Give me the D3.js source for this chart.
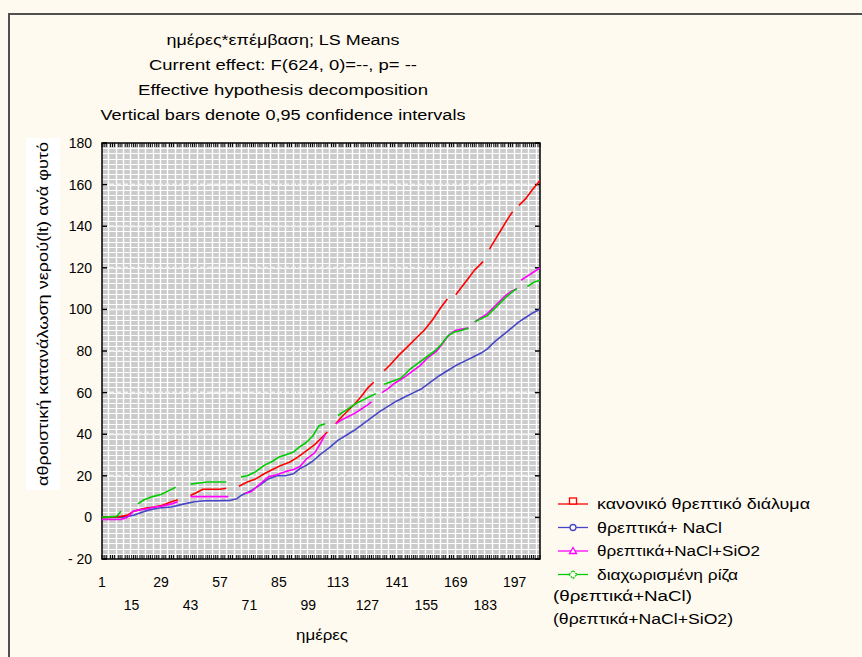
<!DOCTYPE html>
<html>
<head>
<meta charset="utf-8">
<script src="https://cdn.jsdelivr.net/npm/d3@7"></script>
<style>
  html, body { margin: 0; padding: 0; background: #fffaef; }
  svg { display: block; }
  text { font-family: "Liberation Sans", Arial, sans-serif; fill: #000; }
</style>
</head>
<body>
<svg id="chart" width="862" height="657"></svg>
<script>
// ---- chart data ----------------------------------------------------------
const titleLines = [
  "ημέρες*επέμβαση; LS Means",
  "Current effect: F(624, 0)=--, p= --",
  "Effective hypothesis decomposition",
  "Vertical bars denote 0,95 confidence intervals"
];
const titleWidths = [233, 268, 290, 365];
const yTickValues = [-20, 0, 20, 40, 60, 80, 100, 120, 140, 160, 180];
const xTickValues = [1, 15, 29, 43, 57, 71, 85, 99, 113, 127, 141, 155, 169, 183, 197];
const xAxisTitle = "ημέρες";
const yAxisTitle = "αθροιστική κατανάλωση νερού(lt) ανά φυτό";
const dayCount = 209;

// cumulative water use per plant; null marks days without a measurement
const redDays   = [1,5,10,13,16,18,22,26,30,34,37,39,43,46,49,53,57,60,63,66,70,74,78,82,86,90,94,98,102,106,108,110,112,115,118,121,124,127,130,132,135,138,142,146,150,154,158,162,165,167,169,172,175,178,182,184,185,188,191,194,196,198,199,202,205,209];
const redValues = [0,0,0.5,1,3,3.5,4.5,5,6,7.5,8.5,null,10.5,12,13.5,13.5,13.5,14,null,15,17,18.5,21,23,25,26.5,29,32,35,39,41,null,45,48.5,51.5,54.5,58,62,65,null,70.5,73.5,78,82,86,90,95,101,105,null,107,111,115,119,123,null,129,134,139,144,147,null,150,153,157,162];

const blueDays   = [1,10,13,16,20,23,28,34,40,45,50,56,62,65,67,70,72,76,80,84,88,92,95,98,101,105,109,113,117,121,125,129,133,137,141,145,149,153,157,161,165,169,173,177,181,184,187,190,193,196,199,202,205,209];
const blueValues = [0,0,0.5,1,2.5,3.5,4.5,5,6.5,7.5,8,8,8.2,9,10.5,12,13,15.5,18.5,20,20,21,23.5,25,27,30.5,33.5,37,39.5,42,45,48,51,53.5,56,58,60,62,65,68,70.5,73,75,77,79,81,84,86.5,89,91.5,94,96,98,100];

const magentaDays   = [1,10,13,16,18,22,26,30,34,37,40,43,48,53,57,61,65,69,72,76,80,84,88,92,95,98,102,105,107,110,112,115,118,121,124,127,129,131,134,137,140,144,148,152,156,160,163,166,169,172,175,177,178,181,184,187,190,193,196,198,199,200,203,206,209];
const magentaValues = [-1,-1,0,3,3.5,4,5,5.5,6.5,7.5,null,10,10,10,10,10,null,11.5,12.5,16,19.5,20.5,22,23,24.5,28,31,36,40,null,45,47,48.5,50,52,54,55.5,null,60,62,64.5,67,70,73,77,80,84,88,90,90.5,91,null,94,96,98,101,104,107,109,110,null,114,116,118,120];

const greenDays   = [1,8,10,13,18,21,25,29,33,36,39,43,47,51,56,60,63,67,70,74,78,82,85,88,92,95,98,101,104,107,110,113,116,119,122,125,128,131,133,135,139,143,147,151,155,159,162,165,168,172,175,177,178,181,184,187,190,193,196,198,200,203,206,209];
const greenValues = [0,0.5,3,null,6.5,8.5,10,11,13,14.5,null,16,16.5,17,17,17,null,19.5,20,22,25,27,29,30,31.5,34,36,39,44,45,null,49,51,53,55,56.5,58,59.5,null,64,65.5,67,71,74,77,80,83,87,89,90,91,null,94,95.5,97,100,103,106,108.5,110,null,111,113,114];

const seriesNames = [
  "κανονικό θρεπτικό διάλυμα",
  "θρεπτικά+ NaCl",
  "θρεπτικά+NaCl+SiO2",
  "διαχωρισμένη ρίζα"
];
const seriesNameWidths = [213, 125, 163, 141];
const legendExtraLines = ["(θρεπτικά+NaCl)", "(θρεπτικά+NaCl+SiO2)"];
const legendExtraWidths = [139, 180];
const seriesColors = ["#ff0000", "#4646c8", "#ff00ff", "#00cc00"];
const seriesMarkers = ["square", "circle", "triangle", "diamond"];

// ---- layout --------------------------------------------------------------
const W = 862, H = 657;
const plot = { left: 102, right: 540, top: 143, bottom: 559 };
const bg = "#fffaef";

const svg = d3.select("#chart");

// outer frame (top and left edges)
svg.append("path")
  .attr("d", `M9,${H} V14 H${W}`)
  .attr("fill", "none")
  .attr("stroke", "#505050")
  .attr("stroke-width", 2);

const x = d3.scaleLinear().domain([1, dayCount]).range([plot.left, plot.right]);
const y = d3.scaleLinear().domain([-20, 180]).range([plot.bottom, plot.top]);

// title block
const titleG = svg.append("g");
titleLines.forEach((t, i) => {
  titleG.append("text")
    .attr("x", 283).attr("y", 45 + i * 25)
    .attr("text-anchor", "middle")
    .attr("font-size", 14)
    .attr("textLength", titleWidths[i])
    .attr("lengthAdjust", "spacingAndGlyphs")
    .text(t);
});

// plot background with a fine white lattice
const grid = svg.append("g");
grid.append("rect")
  .attr("x", plot.left).attr("y", plot.top)
  .attr("width", plot.right - plot.left).attr("height", plot.bottom - plot.top)
  .attr("fill", "#cbcbcb");

grid.selectAll("line.h")
  .data(d3.range(-20, 180.01, 2.5))
  .join("line")
  .attr("x1", plot.left).attr("x2", plot.right)
  .attr("y1", d => Math.round(y(d)) + 0.5).attr("y2", d => Math.round(y(d)) + 0.5)
  .attr("stroke", "#ffffff").attr("stroke-width", 1.2);

// day ticks along top and bottom edges
const tickDays = d3.range(1, dayCount + 1);
grid.selectAll("line.tb")
  .data(tickDays)
  .join("line")
  .attr("x1", d => x(d)).attr("x2", d => x(d))
  .attr("y1", plot.bottom).attr("y2", plot.bottom - 4)
  .attr("stroke", "#000").attr("stroke-width", 1);
grid.selectAll("line.tt")
  .data(tickDays)
  .join("line")
  .attr("x1", d => x(d)).attr("x2", d => x(d))
  .attr("y1", plot.top).attr("y2", plot.top + 4)
  .attr("stroke", "#000").attr("stroke-width", 1);

grid.selectAll("line.v")
  .data(d3.range(4, dayCount, 3.5))
  .join("line")
  .attr("x1", d => Math.round(x(d)) + 0.5).attr("x2", d => Math.round(x(d)) + 0.5)
  .attr("y1", plot.top).attr("y2", plot.bottom)
  .attr("stroke", "#ffffff").attr("stroke-width", 1.4);

// major value lines
grid.selectAll("line.major")
  .data(yTickValues.slice(1, -1))
  .join("line")
  .attr("x1", plot.left).attr("x2", plot.right)
  .attr("y1", d => y(d)).attr("y2", d => y(d))
  .attr("stroke", "#f2f2f2").attr("stroke-width", 2)
  .attr("stroke-dasharray", "5,2");

// plot border
svg.append("rect")
  .attr("x", plot.left).attr("y", plot.top)
  .attr("width", plot.right - plot.left).attr("height", plot.bottom - plot.top)
  .attr("fill", "none").attr("stroke", "#000").attr("stroke-width", 1.5);

// value ticks on both sides
svg.selectAll("line.yl")
  .data(yTickValues)
  .join("line")
  .attr("x1", plot.left).attr("x2", plot.left + 5)
  .attr("y1", d => y(d)).attr("y2", d => y(d))
  .attr("stroke", "#000").attr("stroke-width", 1.5);
svg.selectAll("line.yr")
  .data(yTickValues)
  .join("line")
  .attr("x1", plot.right).attr("x2", plot.right - 5)
  .attr("y1", d => y(d)).attr("y2", d => y(d))
  .attr("stroke", "#000").attr("stroke-width", 1.5);

// y tick labels
svg.selectAll("text.ytl")
  .data(yTickValues)
  .join("text")
  .attr("x", 92).attr("y", d => y(d) + 5)
  .attr("text-anchor", "end")
  .attr("font-size", 14)
  .text(d => d < 0 ? "- " + Math.abs(d) : d);

// x tick labels, staggered on two rows
svg.selectAll("text.xtl")
  .data(xTickValues)
  .join("text")
  .attr("x", d => x(d))
  .attr("y", (d, i) => i % 2 === 0 ? 587 : 610)
  .attr("text-anchor", "middle")
  .attr("font-size", 14)
  .text(d => d);

svg.append("text")
  .attr("x", 322).attr("y", 640)
  .attr("text-anchor", "middle")
  .attr("font-size", 14)
  .attr("textLength", 52)
  .attr("lengthAdjust", "spacingAndGlyphs")
  .text(xAxisTitle);

// y axis title on a white label box
svg.append("rect")
  .attr("x", 26).attr("y", 138)
  .attr("width", 34).attr("height", 352)
  .attr("fill", "#ffffff");
svg.append("text")
  .attr("transform", `translate(48,314) rotate(-90)`)
  .attr("text-anchor", "middle")
  .attr("font-size", 14)
  .attr("textLength", 344)
  .attr("lengthAdjust", "spacingAndGlyphs")
  .text(yAxisTitle);

// series lines
const seriesData = [
  d3.zip(redDays, redValues),
  d3.zip(blueDays, blueValues),
  d3.zip(magentaDays, magentaValues),
  d3.zip(greenDays, greenValues)
];
const line = d3.line()
  .defined(d => d[1] !== null)
  .x(d => x(d[0]))
  .y(d => y(d[1]));

svg.append("clipPath").attr("id", "plotClip")
  .append("rect")
  .attr("x", plot.left).attr("y", plot.top)
  .attr("width", plot.right - plot.left).attr("height", plot.bottom - plot.top);

const linesG = svg.append("g").attr("clip-path", "url(#plotClip)");
[1, 0, 2, 3].forEach(i => {
  linesG.append("path")
    .datum(seriesData[i])
    .attr("d", line)
    .attr("fill", "none")
    .attr("stroke", seriesColors[i])
    .attr("stroke-width", 1.6)
    .attr("stroke-linejoin", "round");
});

// legend
function marker(g, type, cx, cy, color) {
  if (type === "square") {
    g.append("rect").attr("x", cx - 3.5).attr("y", cy - 6).attr("width", 7).attr("height", 6)
      .attr("fill", bg).attr("stroke", color).attr("stroke-width", 1.3);
  } else if (type === "circle") {
    g.append("circle").attr("cx", cx).attr("cy", cy).attr("r", 3)
      .attr("fill", bg).attr("stroke", color).attr("stroke-width", 1.3);
  } else if (type === "triangle") {
    g.append("path").attr("d", `M${cx - 3.5},${cy + 2.5} L${cx},${cy - 3.5} L${cx + 3.5},${cy + 2.5} Z`)
      .attr("fill", bg).attr("stroke", color).attr("stroke-width", 1.3);
  } else {
    g.append("path").attr("d", `M${cx - 4},${cy} L${cx},${cy - 4} L${cx + 4},${cy} L${cx},${cy + 4} Z`)
      .attr("fill", bg).attr("stroke", color).attr("stroke-width", 1.3)
      .attr("stroke-dasharray", "2,1");
  }
}
const legend = svg.append("g");
seriesNames.forEach((name, i) => {
  const ly = 504 + i * 23.5;
  legend.append("line")
    .attr("x1", 558).attr("x2", 588)
    .attr("y1", ly).attr("y2", ly)
    .attr("stroke", seriesColors[i]).attr("stroke-width", 1.3);
  marker(legend, seriesMarkers[i], 573, ly, seriesColors[i]);
  legend.append("text")
    .attr("x", 597).attr("y", ly + 5)
    .attr("font-size", 14)
    .attr("textLength", seriesNameWidths[i])
    .attr("lengthAdjust", "spacingAndGlyphs")
    .text(name);
});
legendExtraLines.forEach((t, i) => {
  legend.append("text")
    .attr("x", 553).attr("y", 601 + i * 23)
    .attr("font-size", 14)
    .attr("textLength", legendExtraWidths[i])
    .attr("lengthAdjust", "spacingAndGlyphs")
    .text(t);
});
</script>
</body>
</html>
